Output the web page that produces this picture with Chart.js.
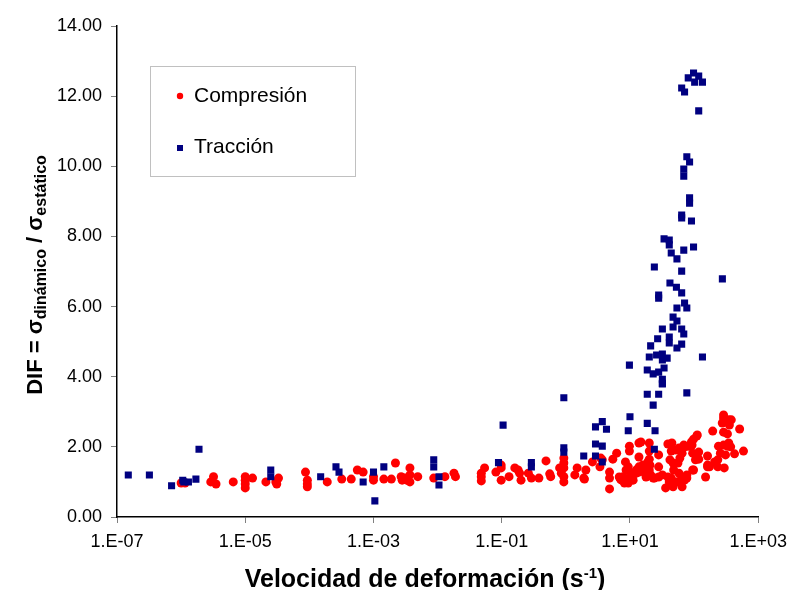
<!DOCTYPE html>
<html>
<head>
<meta charset="utf-8">
<script src="https://cdn.jsdelivr.net/npm/chart.js@4.4.1/dist/chart.umd.min.js"></script>
<style>
  html, body { margin: 0; padding: 0; background: #fff; }
  #wrap { width: 795px; height: 590px; }
</style>
</head>
<body>
<div id="wrap"><canvas id="difChart" width="795" height="590"></canvas></div>
<script>
// ejes
const xTickValues = [1e-7, 1e-5, 1e-3, 1e-1, 1e1, 1e3];
const xTickLabels = ['1.E-07', '1.E-05', '1.E-03', '1.E-01', '1.E+01', '1.E+03'];
const yMin = 0, yMax = 14, yStep = 2;

// Compresión: velocidad de deformación (s-1) y DIF
const compresionRate = [
  1.0e-6, 1.15e-6, 2.9e-6, 3.2e-6, 3.5e-6, 6.5e-6, 1.0e-5, 1.0e-5, 1.0e-5, 1.0e-5,
  1.3e-5, 2.1e-5, 3.0e-5, 3.3e-5, 3.1e-5, 8.7e-5, 9.3e-5, 9.3e-5, 9.3e-5, 1.9e-4,
  3.2e-4, 4.5e-4, 5.6e-4, 6.9e-4, 1.0e-3, 1.0e-3, 1.45e-3, 1.9e-3, 2.2e-3, 2.7e-3,
  2.8e-3, 3.1e-3, 3.3e-3, 3.7e-3, 3.7e-3, 3.7e-3, 4.9e-3, 8.7e-3, 1.3e-2, 1.8e-2,
  1.9e-2, 4.8e-2, 4.8e-2, 4.8e-2, 5.4e-2, 8.1e-2, 9.8e-2, 9.8e-2, 9.8e-2, 0.13,
  0.16, 0.18, 0.19, 0.20, 0.26, 0.29, 0.38, 0.49, 0.56, 0.58,
  0.80, 0.85, 0.93, 0.93, 0.93, 0.93, 0.93, 1.38, 1.5, 1.9,
  2.05, 2.6, 3.4, 3.7, 1.95, 3.5, 4.8, 4.8, 4.8, 5.4,
  6.2, 7.1, 7.8, 8.7, 9.8, 10.5, 11.2, 12.6, 13.8, 15.8,
  17.4, 7.4, 8.2, 9.4, 11.2, 8.5, 9.4, 10, 8.7, 9.8,
  9.8, 13.8, 14.8, 13.8, 20, 20, 20, 20.5, 20, 23,
  28, 28, 24, 28, 32, 39, 41, 36, 44, 39,
  45, 44, 42, 47, 52, 58, 65, 60, 56, 48,
  58, 62, 52, 69, 77, 71, 83, 91, 98, 110,
  95, 105, 118, 118, 105, 95, 162, 151, 162, 174,
  209, 234, 195, 288, 288, 275, 347, 380, 355, 288,
  331, 347, 288, 331, 372, 240, 257, 309, 427, 589,
  513, 295, 10.7, 6.8, 12.6, 13.8, 15.8, 17.8, 19, 17.8,
  21, 69, 56, 47, 65, 112, 93, 77, 162, 234,
  98, 77, 71
];
const compresionDIF = [
  0.97, 0.97, 1.00, 1.15, 0.94, 1.00, 1.15, 1.05, 0.94, 0.83,
  1.11, 1.00, 1.00, 1.11, 0.94, 1.28, 1.05, 0.94, 0.86, 1.00,
  1.08, 1.08, 1.34, 1.28, 1.15, 1.05, 1.08, 1.08, 1.54, 1.15,
  1.05, 1.11, 1.05, 1.00, 1.40, 1.20, 1.15, 1.11, 1.15, 1.25,
  1.15, 1.25, 1.15, 1.03, 1.40, 1.28, 1.48, 1.40, 1.05, 1.15,
  1.40, 1.34, 1.25, 1.05, 1.25, 1.11, 1.11, 1.60, 1.23, 1.15,
  1.40, 1.25, 1.40, 1.15, 1.00, 1.68, 1.54, 1.20, 1.40, 1.11,
  1.34, 1.57, 1.43, 1.63, 1.08, 1.68, 1.28, 1.11, 0.80, 1.65,
  1.82, 1.08, 1.15, 1.08, 1.05, 1.11, 1.20, 1.25, 1.28, 1.31,
  1.34, 1.05, 0.97, 0.97, 1.05, 1.57, 1.43, 1.28, 1.34, 2.02,
  1.88, 2.11, 2.14, 1.71, 2.11, 1.88, 1.65, 1.48, 1.34, 1.11,
  1.77, 1.43, 1.11, 1.14, 1.20, 1.14, 1.00, 0.83, 1.11, 2.08,
  2.11, 1.88, 1.63, 1.54, 1.91, 1.97, 1.82, 1.68, 1.54, 1.34,
  1.25, 1.05, 1.00, 1.08, 1.11, 2.00, 2.02, 2.14, 2.22, 2.31,
  1.82, 1.77, 1.85, 1.65, 1.63, 1.34, 1.74, 1.14, 1.48, 1.43,
  1.57, 1.63, 2.45, 2.91, 2.82, 2.68, 2.77, 2.77, 2.62, 2.42,
  2.37, 2.11, 2.05, 2.02, 2.00, 2.02, 1.82, 1.77, 1.80, 1.88,
  2.51, 1.40, 1.14, 1.14, 1.34, 1.43, 1.48, 1.43, 1.57, 1.14,
  1.20, 2.05, 1.00, 0.86, 0.86, 2.34, 2.05, 2.02, 1.43, 1.43,
  1.34, 1.20, 1.05
];

// Tracción
const traccionRate = [
  1.5e-7, 3.2e-7, 7.1e-7, 1.06e-6, 1.1e-6, 1.3e-6, 1.7e-6, 1.9e-6, 2.5e-5, 2.5e-5,
  1.5e-4, 2.6e-4, 2.9e-4, 6.9e-4, 1.0e-3, 1.05e-3, 1.45e-3, 8.7e-3, 8.7e-3, 1.05e-2,
  1.05e-2, 8.9e-2, 0.105, 0.29, 0.29, 0.93, 0.93, 0.93, 1.9, 2.9,
  2.9, 2.9, 3.7, 3.7, 4.3, 3.7, 10, 9.4, 18.6, 28,
  23, 32, 77, 18.6, 24.6, 24, 9.8, 42, 53, 64,
  28, 28, 71, 77, 54, 47, 54, 32, 47, 64,
  69, 41, 41, 27, 64, 54, 21, 20, 26, 32,
  32, 38, 135, 18.6, 23, 28, 34, 32, 32, 85,
  85, 64, 64, 91, 34, 41, 41, 69, 98, 44,
  54, 24, 64, 276, 98, 118, 81, 102, 135, 64,
  71, 118, 77, 85, 69, 69
];
const traccionDIF = [
  1.20, 1.20, 0.89, 1.05, 1.00, 1.00, 1.08, 1.93, 1.34, 1.15,
  1.15, 1.43, 1.28, 1.00, 1.28, 0.46, 1.43, 1.63, 1.43, 1.15,
  0.91, 1.55, 2.62, 1.55, 1.43, 3.40, 1.97, 1.85, 1.74, 2.57,
  2.08, 1.74, 2.72, 2.02, 2.50, 1.57, 2.86, 2.46, 3.50, 3.50,
  3.19, 3.81, 3.54, 2.67, 2.46, 1.93, 4.33, 6.67, 6.55, 6.39,
  6.33, 6.24, 6.10, 5.96, 5.96, 5.70, 5.59, 5.36, 5.42, 5.36,
  5.22, 5.13, 4.96, 5.08, 4.93, 4.82, 4.88, 4.56, 4.62, 4.65,
  4.48, 4.53, 4.56, 4.19, 4.08, 4.13, 4.25, 3.93, 3.79, 9.10,
  8.95, 8.61, 8.53, 8.44, 7.93, 7.90, 7.76, 7.61, 7.70, 7.53,
  7.36, 7.13, 7.01, 6.79, 12.66, 12.57, 12.52, 12.40, 12.40, 12.23,
  12.12, 11.58, 10.27, 10.12, 9.92, 9.72
];

const FONT = '"Liberation Sans", Arial, Helvetica, sans-serif';
const toPoints = (xs, ys) => xs.map((x, i) => ({ x: x, y: ys[i] }));

// leyenda dentro del área del gráfico
const legendBox = {
  id: 'legendBox',
  afterDraw(chart) {
    const ctx = chart.ctx;
    ctx.save();
    ctx.strokeStyle = '#c0c0c0';
    ctx.lineWidth = 1;
    ctx.strokeRect(150.5, 66.5, 205, 110);
    ctx.font = '21px ' + FONT;
    ctx.fillStyle = '#000';
    ctx.textBaseline = 'middle';
    ctx.fillText('Compresión', 194, 96);
    ctx.fillText('Tracción', 194, 147);
    ctx.fillStyle = '#ff0000';
    ctx.beginPath();
    ctx.arc(180, 96, 3.2, 0, Math.PI * 2);
    ctx.fill();
    ctx.fillStyle = '#000080';
    ctx.fillRect(177, 145, 6, 6);
    ctx.restore();
  }
};

// títulos de ejes con subíndices y superíndice
function drawRuns(ctx, runs, cx, baseY) {
  let total = 0;
  runs.forEach(r => { ctx.font = r.font; r.w = ctx.measureText(r.text).width; total += r.w; });
  let x = cx - total / 2;
  runs.forEach(r => {
    ctx.font = r.font;
    ctx.fillText(r.text, x, baseY + r.dy);
    x += r.w;
  });
}

const axisTitles = {
  id: 'axisTitles',
  afterDraw(chart) {
    const ctx = chart.ctx;
    const big = 'bold 22px ' + FONT;
    const small = 'bold 16px ' + FONT;
    ctx.save();
    ctx.fillStyle = '#000';
    ctx.textBaseline = 'alphabetic';
    drawRuns(ctx, [
      { text: 'Velocidad de deformación (s', font: 'bold 25px ' + FONT, dy: 0 },
      { text: '-1', font: 'bold 15px ' + FONT, dy: -9 },
      { text: ')', font: 'bold 25px ' + FONT, dy: 0 }
    ], 425, 587);

    ctx.translate(42, 275);
    ctx.rotate(-Math.PI / 2);
    drawRuns(ctx, [
      { text: 'DIF = σ', font: big, dy: 0 },
      { text: 'dinámico', font: small, dy: 4 },
      { text: ' / σ', font: big, dy: 0 },
      { text: 'estático', font: small, dy: 4 }
    ], 0, 0);
    ctx.restore();
  }
};

new Chart(document.getElementById('difChart'), {
  type: 'scatter',
  data: {
    datasets: [{
      label: 'Compresión',
      data: toPoints(compresionRate, compresionDIF),
      pointStyle: 'circle',
      pointRadius: 4.5,
      backgroundColor: '#ff0000',
      borderWidth: 0,
      order: 1
    }, {
      label: 'Tracción',
      data: toPoints(traccionRate, traccionDIF),
      pointStyle: 'rect',
      pointRadius: 5,
      backgroundColor: '#000080',
      borderWidth: 0,
      order: 0
    }]
  },
  options: {
    responsive: false,
    animation: false,
    devicePixelRatio: 1,
    layout: { padding: { left: 0, top: 26, right: 33, bottom: 0 } },
    plugins: {
      legend: { display: false },
      tooltip: { enabled: false }
    },
    scales: {
      x: {
        type: 'logarithmic',
        min: xTickValues[0],
        max: xTickValues[xTickValues.length - 1],
        afterBuildTicks: scale => { scale.ticks = xTickValues.map(v => ({ value: v })); },
        afterFit: scale => { scale.height = 73; },
        ticks: {
          autoSkip: false,
          maxRotation: 0,
          padding: 8,
          color: '#000',
          font: { family: FONT, size: 18 },
          callback: value => {
            const i = xTickValues.findIndex(v => Math.abs(Math.log10(v) - Math.log10(value)) < 1e-6);
            return i >= 0 ? xTickLabels[i] : '';
          }
        },
        grid: { drawOnChartArea: false, drawTicks: true, tickLength: 6, tickColor: '#808080' },
        border: { color: '#000', width: 1.5 }
      },
      y: {
        min: yMin,
        max: yMax,
        afterFit: scale => { scale.width = 117; },
        ticks: {
          stepSize: yStep,
          padding: 9,
          color: '#000',
          font: { family: FONT, size: 18 },
          callback: value => value.toFixed(2)
        },
        grid: { drawOnChartArea: false, drawTicks: true, tickLength: 6, tickColor: '#808080' },
        border: { color: '#000', width: 1.5 }
      }
    }
  },
  plugins: [legendBox, axisTitles]
});
</script>
</body>
</html>
